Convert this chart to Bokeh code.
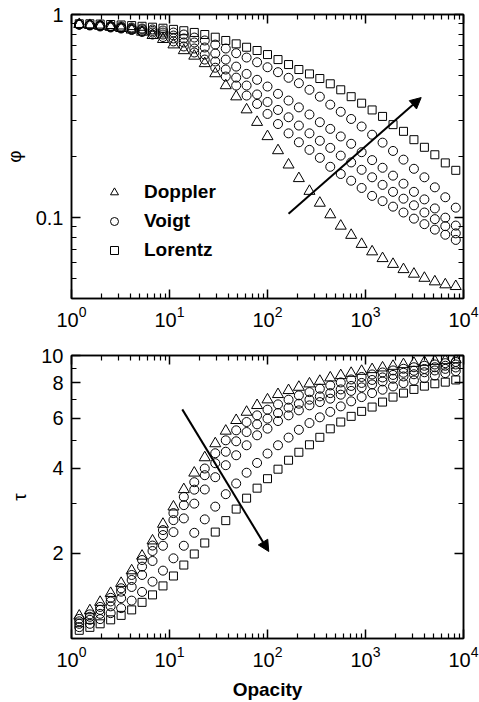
from bokeh.plotting import figure
from bokeh.models import (LogAxis, FixedTicker, Legend, LegendItem, Arrow, NormalHead, Range1d,
                          LogTickFormatter)
from bokeh.layouts import column
from bokeh.embed import file_html
from bokeh.resources import INLINE

# ---------------- data ----------------
opacity = [1.20, 1.54, 1.96, 2.51, 3.21, 4.11, 5.25, 6.71, 8.58, 10.97, 14.0, 17.9, 22.9,
           29.3, 37.5, 47.9, 61.2, 78.3, 100, 128, 164, 209, 268, 342, 437, 559, 714, 913,
           1168, 1493, 1909, 2441, 3120, 3990, 5100, 6520, 8340]

phi_doppler = [0.895, 0.885, 0.876, 0.866, 0.855, 0.84, 0.82, 0.79, 0.755, 0.71, 0.665, 0.625,
               0.574, 0.512, 0.447, 0.394, 0.340, 0.295, 0.251, 0.214, 0.182, 0.156, 0.135,
               0.118, 0.1035, 0.091, 0.082, 0.074, 0.068, 0.063, 0.059, 0.0556, 0.0528,
               0.0504, 0.0484, 0.0468, 0.0459]
phi_voigt1 = [0.893, 0.888, 0.883, 0.878, 0.873, 0.863, 0.853, 0.844, 0.834, 0.815, 0.797,
              0.770, 0.745, 0.711, 0.680, 0.645, 0.614, 0.582, 0.550, 0.520, 0.488, 0.459,
              0.426, 0.394, 0.360, 0.332, 0.306, 0.281, 0.256, 0.234, 0.213, 0.193, 0.174,
              0.158, 0.141, 0.126, 0.112]
phi_voigt2 = [0.893, 0.888, 0.883, 0.873, 0.863, 0.853, 0.844, 0.830, 0.815, 0.788, 0.762,
              0.728, 0.688, 0.643, 0.600, 0.554, 0.510, 0.477, 0.442, 0.407, 0.377, 0.349,
              0.322, 0.295, 0.2735, 0.251, 0.231, 0.210, 0.192, 0.176, 0.161, 0.147, 0.134,
              0.123, 0.111, 0.100, 0.0914]
phi_voigt3 = [0.893, 0.888, 0.878, 0.868, 0.858, 0.844, 0.830, 0.815, 0.797, 0.762, 0.728,
              0.680, 0.635, 0.587, 0.536, 0.489, 0.447, 0.404, 0.371, 0.339, 0.312, 0.284,
              0.260, 0.239, 0.2205, 0.202, 0.187, 0.172, 0.158, 0.145, 0.134, 0.124, 0.115,
              0.106, 0.0983, 0.0908, 0.0837]
phi_voigt4 = [0.893, 0.883, 0.873, 0.863, 0.853, 0.839, 0.820, 0.797, 0.775, 0.737, 0.696,
              0.650, 0.600, 0.547, 0.495, 0.447, 0.399, 0.363, 0.324, 0.289, 0.260, 0.235,
              0.2156, 0.197, 0.178, 0.164, 0.152, 0.140, 0.128, 0.1206, 0.1133, 0.106,
              0.0989, 0.0929, 0.0873, 0.0824, 0.0777]
phi_lorentz = [0.90, 0.90, 0.897, 0.893, 0.888, 0.882, 0.875, 0.866, 0.856, 0.845, 0.832,
               0.816, 0.797, 0.773, 0.745, 0.717, 0.69, 0.665, 0.635, 0.600, 0.567, 0.536,
               0.510, 0.484, 0.456, 0.426, 0.394, 0.366, 0.339, 0.315, 0.287, 0.266, 0.242,
               0.222, 0.204, 0.186, 0.171]

tau_doppler = [1.202, 1.255, 1.344, 1.445, 1.568, 1.737, 1.957, 2.215, 2.537, 2.920, 3.362,
               3.847, 4.358, 4.884, 5.411, 5.901, 6.311, 6.665, 6.980, 7.288, 7.528, 7.733,
               7.947, 8.117, 8.344, 8.501, 8.661, 8.804, 8.928, 9.050, 9.169, 9.296, 9.395,
               9.472, 9.548, 9.603, 9.680]
tau_voigt4 = [1.173, 1.217, 1.293, 1.392, 1.505, 1.677, 1.894, 2.130, 2.416, 2.774, 3.166,
              3.567, 3.987, 4.514, 5.016, 5.440, 5.820, 6.145, 6.436, 6.719, 6.980, 7.228,
              7.424, 7.631, 7.839, 8.031, 8.229, 8.398, 8.570, 8.711, 8.855, 8.978, 9.088,
              9.200, 9.296, 9.395, 9.486]
tau_voigt3 = [1.150, 1.193, 1.262, 1.352, 1.464, 1.610, 1.794, 2.038, 2.320, 2.620, 2.960,
              3.357, 3.776, 4.163, 4.570, 4.976, 5.365, 5.712, 5.983, 6.260, 6.542, 6.756,
              6.980, 7.170, 7.364, 7.589, 7.806, 8.000, 8.195, 8.365, 8.537, 8.690, 8.834,
              8.963, 9.088, 9.200, 9.296]
tau_voigt2 = [1.127, 1.164, 1.222, 1.299, 1.388, 1.521, 1.677, 1.879, 2.127, 2.377, 2.657,
              2.996, 3.362, 3.715, 4.096, 4.441, 4.817, 5.224, 5.515, 5.867, 6.145, 6.399,
              6.665, 6.846, 7.038, 7.270, 7.497, 7.712, 7.903, 8.095, 8.277, 8.433, 8.585,
              8.725, 8.855, 8.970, 9.072]
tau_voigt1 = [1.097, 1.127, 1.171, 1.229, 1.280, 1.361, 1.461, 1.588, 1.737, 1.920, 2.127,
              2.363, 2.636, 2.924, 3.236, 3.530, 3.853, 4.173, 4.503, 4.817, 5.127, 5.463,
              5.773, 6.047, 6.321, 6.610, 6.886, 7.129, 7.364, 7.570, 7.774, 7.987, 8.163,
              8.318, 8.501, 8.661, 8.804]
tau_lorentz = [1.069, 1.095, 1.127, 1.164, 1.207, 1.262, 1.342, 1.426, 1.534, 1.663, 1.818,
               1.989, 2.175, 2.377, 2.609, 2.866, 3.132, 3.398, 3.670, 3.965, 4.265, 4.551,
               4.836, 5.140, 5.507, 5.820, 6.095, 6.347, 6.574, 6.846, 7.129, 7.364, 7.589,
               7.794, 7.947, 8.051, 8.195]

# decade ticks; labels are drawn as 10 with a superscript exponent (10^0 ... 10^4)
x_ticks = [1, 10, 100, 1000, 10000]
x_minor = [m * d for d in [1, 10, 100, 1000] for m in range(2, 10)]
phi_ticks = [0.1, 1]
phi_tick_labels = ["0.1", "1"]
phi_minor = [0.04, 0.05, 0.06, 0.07, 0.08, 0.09, 0.2, 0.3, 0.4, 0.5, 0.6, 0.7, 0.8, 0.9]
tau_ticks = [2, 4, 6, 8, 10]
tau_tick_labels = ["2", "4", "6", "8", "10"]
tau_minor = [3, 5, 7, 9]

legend_labels = ["Doppler", "Voigt", "Lorentz"]

FONT = "Liberation Sans"


def style_axis(ax, major, minor, labels=None, log_labels=False):
    ax.ticker = FixedTicker(ticks=major, minor_ticks=minor)
    ax.major_tick_in = 9
    ax.major_tick_out = 0
    ax.minor_tick_in = 5
    ax.minor_tick_out = 0
    ax.axis_line_color = "black"
    ax.axis_line_width = 1.5
    ax.major_tick_line_color = "black"
    ax.major_tick_line_width = 1.5
    ax.minor_tick_line_color = "black"
    ax.minor_tick_line_width = 1.2
    ax.major_label_text_font = FONT
    ax.major_label_text_color = "black"
    if log_labels:
        ax.formatter = LogTickFormatter()
        ax.major_label_text_font_size = "20px"
        ax.major_label_standoff = 7
    elif labels is None:
        ax.major_label_text_font_size = "0px"
        ax.major_label_standoff = 0
        ax.major_label_overrides = {t: "" for t in major}
    else:
        ax.major_label_text_font_size = "20px"
        ax.major_label_standoff = 8
        ax.major_label_overrides = {t: l for t, l in zip(major, labels)}


def make_fig(height, y_lo, y_hi, border_top, border_bottom, y_major, y_minor, y_labels, ylabel):
    p = figure(width=479, height=height, x_axis_type="log", y_axis_type="log",
               x_range=Range1d(1, 1e4), y_range=Range1d(y_lo, y_hi),
               output_backend="svg", toolbar_location=None,
               min_border_left=64, min_border_right=16,
               min_border_top=border_top, min_border_bottom=border_bottom)
    p.xgrid.grid_line_color = None
    p.ygrid.grid_line_color = None
    p.outline_line_color = "black"
    p.outline_line_width = 1.5
    p.background_fill_color = "white"
    p.border_fill_color = "white"
    bottom_axis = p.below[0]
    left_axis = p.left[0]
    style_axis(bottom_axis, x_ticks, x_minor, log_labels=True)
    style_axis(left_axis, y_major, y_minor, y_labels)
    left_axis.axis_label = ylabel
    left_axis.axis_label_text_font = FONT
    left_axis.axis_label_text_font_style = "normal"
    left_axis.axis_label_text_color = "black"
    left_axis.axis_label_text_font_size = "19px"
    left_axis.axis_label_standoff = 8
    top = LogAxis()
    style_axis(top, x_ticks, x_minor)
    p.add_layout(top, "above")
    right = LogAxis()
    style_axis(right, y_major, y_minor)
    p.add_layout(right, "right")
    return p, bottom_axis


def add_series(p, ys, marker, size):
    return p.scatter(opacity, ys, marker=marker, size=size, fill_color=None,
                     line_color="black", line_width=1)


# ---------------- top panel ----------------
p1, _ = make_fig(330, 0.04, 1, 14, 32, phi_ticks, phi_minor, phi_tick_labels, "\u03c6")
r_d = add_series(p1, phi_doppler, "triangle", 11)
r_v = None
for ys in [phi_voigt1, phi_voigt2, phi_voigt3, phi_voigt4]:
    r = add_series(p1, ys, "circle", 9)
    r_v = r_v or r
r_l = add_series(p1, phi_lorentz, "square", 8)

legend = Legend(items=[LegendItem(label=legend_labels[0], renderers=[r_d]),
                       LegendItem(label=legend_labels[1], renderers=[r_v]),
                       LegendItem(label=legend_labels[2], renderers=[r_l])],
                location=(33, 37), orientation="vertical",
                background_fill_alpha=0, border_line_alpha=0,
                padding=0, margin=0, spacing=7,
                glyph_width=20, glyph_height=20, label_height=20,
                label_standoff=20,
                label_text_font=FONT, label_text_font_style="bold",
                label_text_font_size="19px", label_text_color="black")
p1.add_layout(legend)

p1.add_layout(Arrow(end=NormalHead(size=11, fill_color="black", line_color="black"),
                    x_start=164, y_start=0.1046, x_end=3700, y_end=0.39,
                    line_color="black", line_width=2))

# ---------------- bottom panel ----------------
p2, p2_bottom = make_fig(372, 1, 10, 25, 64, tau_ticks, tau_minor, tau_tick_labels, "\u03c4")
add_series(p2, tau_doppler, "triangle", 11)
for ys in [tau_voigt4, tau_voigt3, tau_voigt2, tau_voigt1]:
    add_series(p2, ys, "circle", 9)
add_series(p2, tau_lorentz, "square", 8)
p2_bottom.axis_label = "Opacity"
p2_bottom.axis_label_text_font = FONT
p2_bottom.axis_label_text_font_style = "bold"
p2_bottom.axis_label_text_color = "black"
p2_bottom.axis_label_text_font_size = "19px"
p2_bottom.axis_label_standoff = 9

p2.add_layout(Arrow(end=NormalHead(size=11, fill_color="black", line_color="black"),
                    x_start=13.5, y_start=6.45, x_end=103, y_end=2.03,
                    line_color="black", line_width=2))

layout = column(p1, p2, spacing=0)
open("out.html", "w").write(file_html(layout, INLINE))
